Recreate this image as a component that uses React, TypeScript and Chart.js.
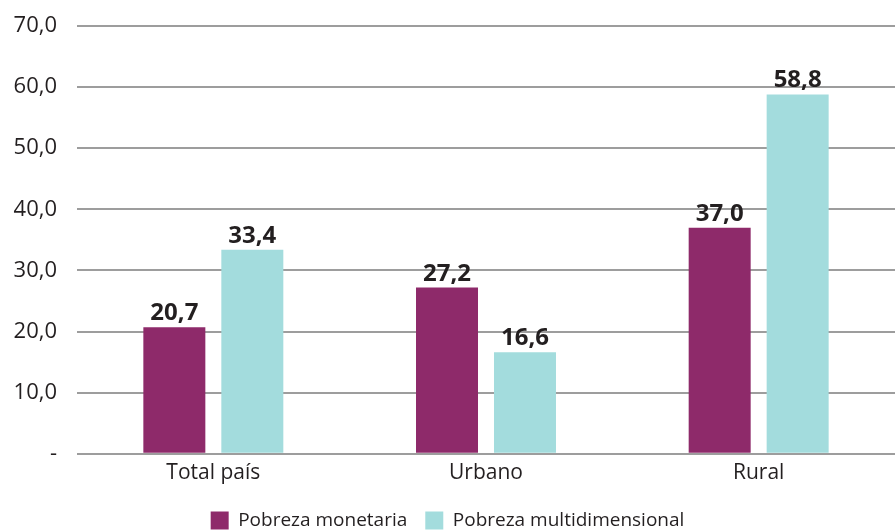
import React, { useEffect, useRef } from "react";
import { Chart, registerables } from "chart.js";

Chart.register(...registerables);

const categories = ["Total país", "Urbano", "Rural"];
const seriesNames = ["Pobreza monetaria", "Pobreza multidimensional"];
const monetaria = [20.7, 27.2, 37.0];
const multidimensional = [33.4, 16.6, 58.8];
const yTickLabels = ["-", "10,0", "20,0", "30,0", "40,0", "50,0", "60,0", "70,0"];
const colors = ["#8E2A6A", "#A3DCDD"];

const FONT = "'Open Sans', 'Noto Sans', sans-serif";

const fmt = (v: number) => v.toFixed(1).replace(".", ",");

const valueLabels = {
  id: "valueLabels",
  afterDatasetsDraw(chart: any) {
    const ctx = chart.ctx;
    ctx.save();
    ctx.font = `bold 24px ${FONT}`;
    ctx.fillStyle = "#231F20";
    ctx.textAlign = "center";
    ctx.textBaseline = "alphabetic";
    chart.data.datasets.forEach((ds: any, i: number) => {
      const meta = chart.getDatasetMeta(i);
      meta.data.forEach((bar: any, j: number) => {
        ctx.fillText(fmt(ds.data[j]), bar.x, bar.y - 7);
      });
    });
    ctx.restore();
  },
};

export default function App() {
  const ref = useRef<HTMLCanvasElement>(null);
  useEffect(() => {
    const chart = new Chart(ref.current!, {
      type: "bar",
      data: {
        labels: categories,
        datasets: [
          { label: seriesNames[0], data: monetaria, backgroundColor: colors[0] },
          { label: seriesNames[1], data: multidimensional, backgroundColor: colors[1] },
        ],
      },
      options: {
        animation: false,
        responsive: false,
        maintainAspectRatio: false,
        layout: { padding: { top: 26, right: 0, left: 0, bottom: -8 } },
        datasets: {
          bar: { barPercentage: 0.795, categoryPercentage: 0.572 },
        },
        scales: {
          x: {
            grid: { display: false, drawTicks: false },
            border: { display: false },
            ticks: { color: "#231F20", font: { family: FONT, size: 21 }, padding: 7 },
          },
          y: {
            min: 0,
            max: 70,
            ticks: {
              stepSize: 10,
              color: "#231F20",
              font: { family: FONT, size: 22 },
              padding: 20,
              callback: (_v: any, i: number) => yTickLabels[i],
            },
            grid: { color: "#9D9D9D", lineWidth: 2, drawTicks: false },
            border: { display: false },
            afterFit: (s: any) => {
              s.width = 77;
              s.paddingTop = 0;
              s.paddingBottom = 0;
            },
          },
        },
        plugins: {
          legend: {
            position: "bottom",
            labels: {
              boxWidth: 18,
              boxHeight: 18,
              padding: 18,
              color: "#231F20",
              font: { family: FONT, size: 19 },
            },
          },
          tooltip: { enabled: false },
        },
      },
      plugins: [valueLabels],
    });
    return () => chart.destroy();
  }, []);
  return (
    <div style={{ position: "fixed", left: 0, top: 0, width: 895, height: 532, background: "#fff" }}>
      <canvas ref={ref} width={895} height={532} />
    </div>
  );
}
